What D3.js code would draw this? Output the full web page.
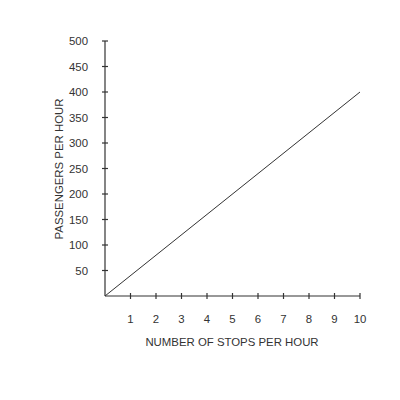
<!DOCTYPE html>
<html>
<head>
<meta charset="utf-8">
<script src="https://cdn.jsdelivr.net/npm/d3@7"></script>
<style>
  body { margin: 0; background: #fff; }
  text { font-family: "Liberation Sans", Arial, sans-serif; fill: #333; }
</style>
</head>
<body>
<div id="chart"></div>
<script>
// data
const stops = [0, 10];
const passengers = [0, 400];
const xTicks = [1, 2, 3, 4, 5, 6, 7, 8, 9, 10];
const yTicks = [50, 100, 150, 200, 250, 300, 350, 400, 450, 500];

const W = 400, H = 400;
const margin = { top: 41, right: 40, bottom: 104, left: 105 };
const width = 360 - margin.left;
const height = 296 - margin.top;

const svg = d3.select("#chart")
  .append("svg")
  .attr("width", W)
  .attr("height", H);

const g = svg.append("g")
  .attr("transform", `translate(${margin.left},${margin.top})`);

const x = d3.scaleLinear().domain([0, 10]).range([0, width]);
const y = d3.scaleLinear().domain([0, 500]).range([height, 0]);

const ink = "#333";
const fs = "11.4px";

// axis lines
g.append("line")
  .attr("x1", 0).attr("x2", x(10))
  .attr("y1", height).attr("y2", height)
  .attr("stroke", ink).attr("stroke-width", 1.2);

g.append("line")
  .attr("x1", 0).attr("x2", 0)
  .attr("y1", height).attr("y2", y(500))
  .attr("stroke", ink).attr("stroke-width", 1.2);

// x ticks (crossing)
g.selectAll(".xtick")
  .data(xTicks)
  .enter()
  .append("line")
  .attr("x1", d => x(d)).attr("x2", d => x(d))
  .attr("y1", height - 3).attr("y2", height + 3)
  .attr("stroke", ink).attr("stroke-width", 1.2);

g.selectAll(".xlabel")
  .data(xTicks)
  .enter()
  .append("text")
  .attr("x", d => x(d))
  .attr("y", height + 27)
  .attr("text-anchor", "middle")
  .style("font-size", fs)
  .text(d => d);

// y ticks (crossing)
g.selectAll(".ytick")
  .data(yTicks)
  .enter()
  .append("line")
  .attr("x1", -3).attr("x2", 3)
  .attr("y1", d => y(d)).attr("y2", d => y(d))
  .attr("stroke", ink).attr("stroke-width", 1.2);

g.selectAll(".ylabel")
  .data(yTicks)
  .enter()
  .append("text")
  .attr("x", -17)
  .attr("y", d => y(d) + 4)
  .attr("text-anchor", "end")
  .style("font-size", fs)
  .text(d => d);

// line
const line = d3.line()
  .x(d => x(d[0]))
  .y(d => y(d[1]));

g.append("path")
  .datum(stops.map((s, i) => [s, passengers[i]]))
  .attr("d", line)
  .attr("fill", "none")
  .attr("stroke", ink)
  .attr("stroke-width", 1);

// axis titles
svg.append("text")
  .attr("x", 232)
  .attr("y", 346)
  .attr("text-anchor", "middle")
  .style("font-size", fs)
  .text("NUMBER OF STOPS PER HOUR");

svg.append("text")
  .attr("transform", "translate(63,169) rotate(-90)")
  .attr("text-anchor", "middle")
  .style("font-size", fs)
  .text("PASSENGERS PER HOUR");
</script>
</body>
</html>
